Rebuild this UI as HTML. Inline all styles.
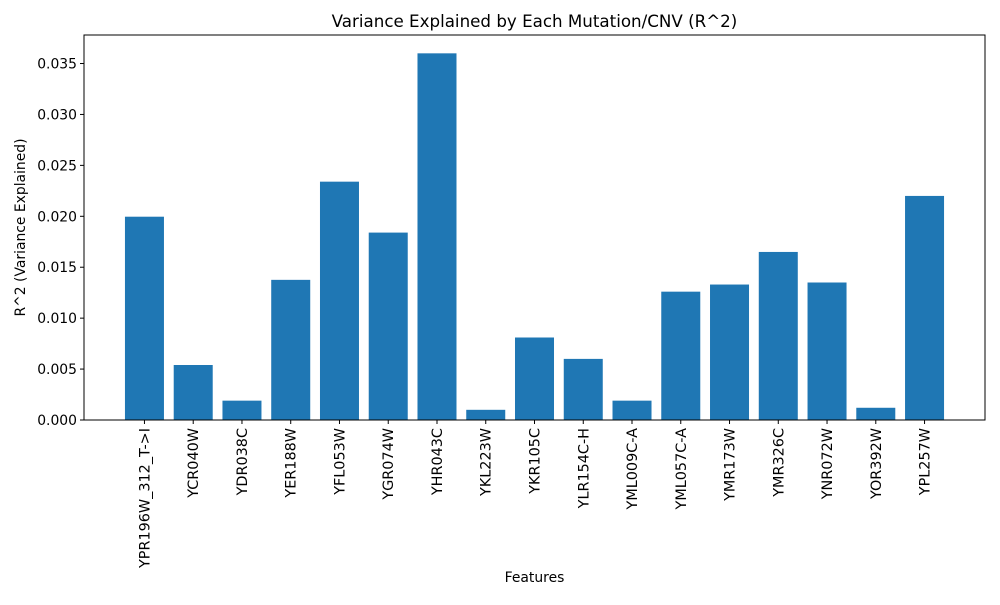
<!DOCTYPE html>
<html><head><meta charset="utf-8"><style>
body{margin:0;background:#fff;}
svg text{font-family:"DejaVu Sans","Liberation Sans",sans-serif;fill:#000;}
</style></head><body>
<svg id="chart" width="1000" height="600" xmlns="http://www.w3.org/2000/svg">
<rect width="1000" height="600" fill="#fff"/>
<text x="534.5" y="27" text-anchor="middle" font-size="16.7">Variance Explained by Each Mutation/CNV (R^2)</text>
<g id="bars"></g>
<g id="yaxis"></g>
<g id="xaxis"></g>
<rect x="84" y="35" width="901" height="385" fill="none" stroke="#000" stroke-width="1"/>
<text x="534.5" y="582" text-anchor="middle" font-size="13.9">Features</text>
<text transform="translate(25,227.5) rotate(-90)" text-anchor="middle" font-size="13.9">R^2 (Variance Explained)</text>
</svg>
<script>
const categories=["YPR196W_312_T->I","YCR040W","YDR038C","YER188W","YFL053W","YGR074W","YHR043C","YKL223W","YKR105C","YLR154C-H","YML009C-A","YML057C-A","YMR173W","YMR326C","YNR072W","YOR392W","YPL257W"];
const values=[0.01996,0.0054,0.0019,0.01376,0.0234,0.0184,0.036,0.001,0.0081,0.006,0.0019,0.0126,0.0133,0.0165,0.0135,0.0012,0.022];
const yTicks=[0,0.005,0.01,0.015,0.02,0.025,0.03,0.035];
const yTickLabels=["0.000","0.005","0.010","0.015","0.020","0.025","0.030","0.035"];

const NS="http://www.w3.org/2000/svg";
const L=84,R=985,T=35,B=420;
const n=categories.length;
const xmin=-0.4-0.05*(n-0.2),xmax=n-1+0.4+0.05*(n-0.2);
const vmax=Math.max(...values);
const ymax=vmax*1.05;
const x=v=>L+(v-xmin)/(xmax-xmin)*(R-L);
const y=v=>B-v/ymax*(B-T);
function mk(tag,attrs,parent){const e=document.createElementNS(NS,tag);for(const k in attrs)e.setAttribute(k,attrs[k]);parent.appendChild(e);return e;}
const bars=document.getElementById('bars'),xa=document.getElementById('xaxis'),ya=document.getElementById('yaxis');
categories.forEach((c,i)=>{
  const r=mk('rect',{x:x(i-0.4),y:y(values[i]),width:x(i+0.4)-x(i-0.4),height:y(0)-y(values[i]),fill:'#1f77b4'},bars);
  
  
  const t=mk('line',{x1:x(i),x2:x(i),y1:B,y2:B+4,stroke:'#000'},xa);
  
  
  const lb=mk('text',{transform:`translate(${x(i)+5},${B+8}) rotate(-90)`,'text-anchor':'end','font-size':'14.4'},xa);
  lb.textContent=c;
  
  
});
yTicks.forEach((v,i)=>{
  const t=mk('line',{x1:L-4,x2:L,y1:y(v),y2:y(v),stroke:'#000'},ya);
  
  
  const lb=mk('text',{x:L-7,y:y(v)+5,'text-anchor':'end','font-size':'13.9'},ya);
  lb.textContent=yTickLabels[i];
  
  
});
</script>
</body></html>
